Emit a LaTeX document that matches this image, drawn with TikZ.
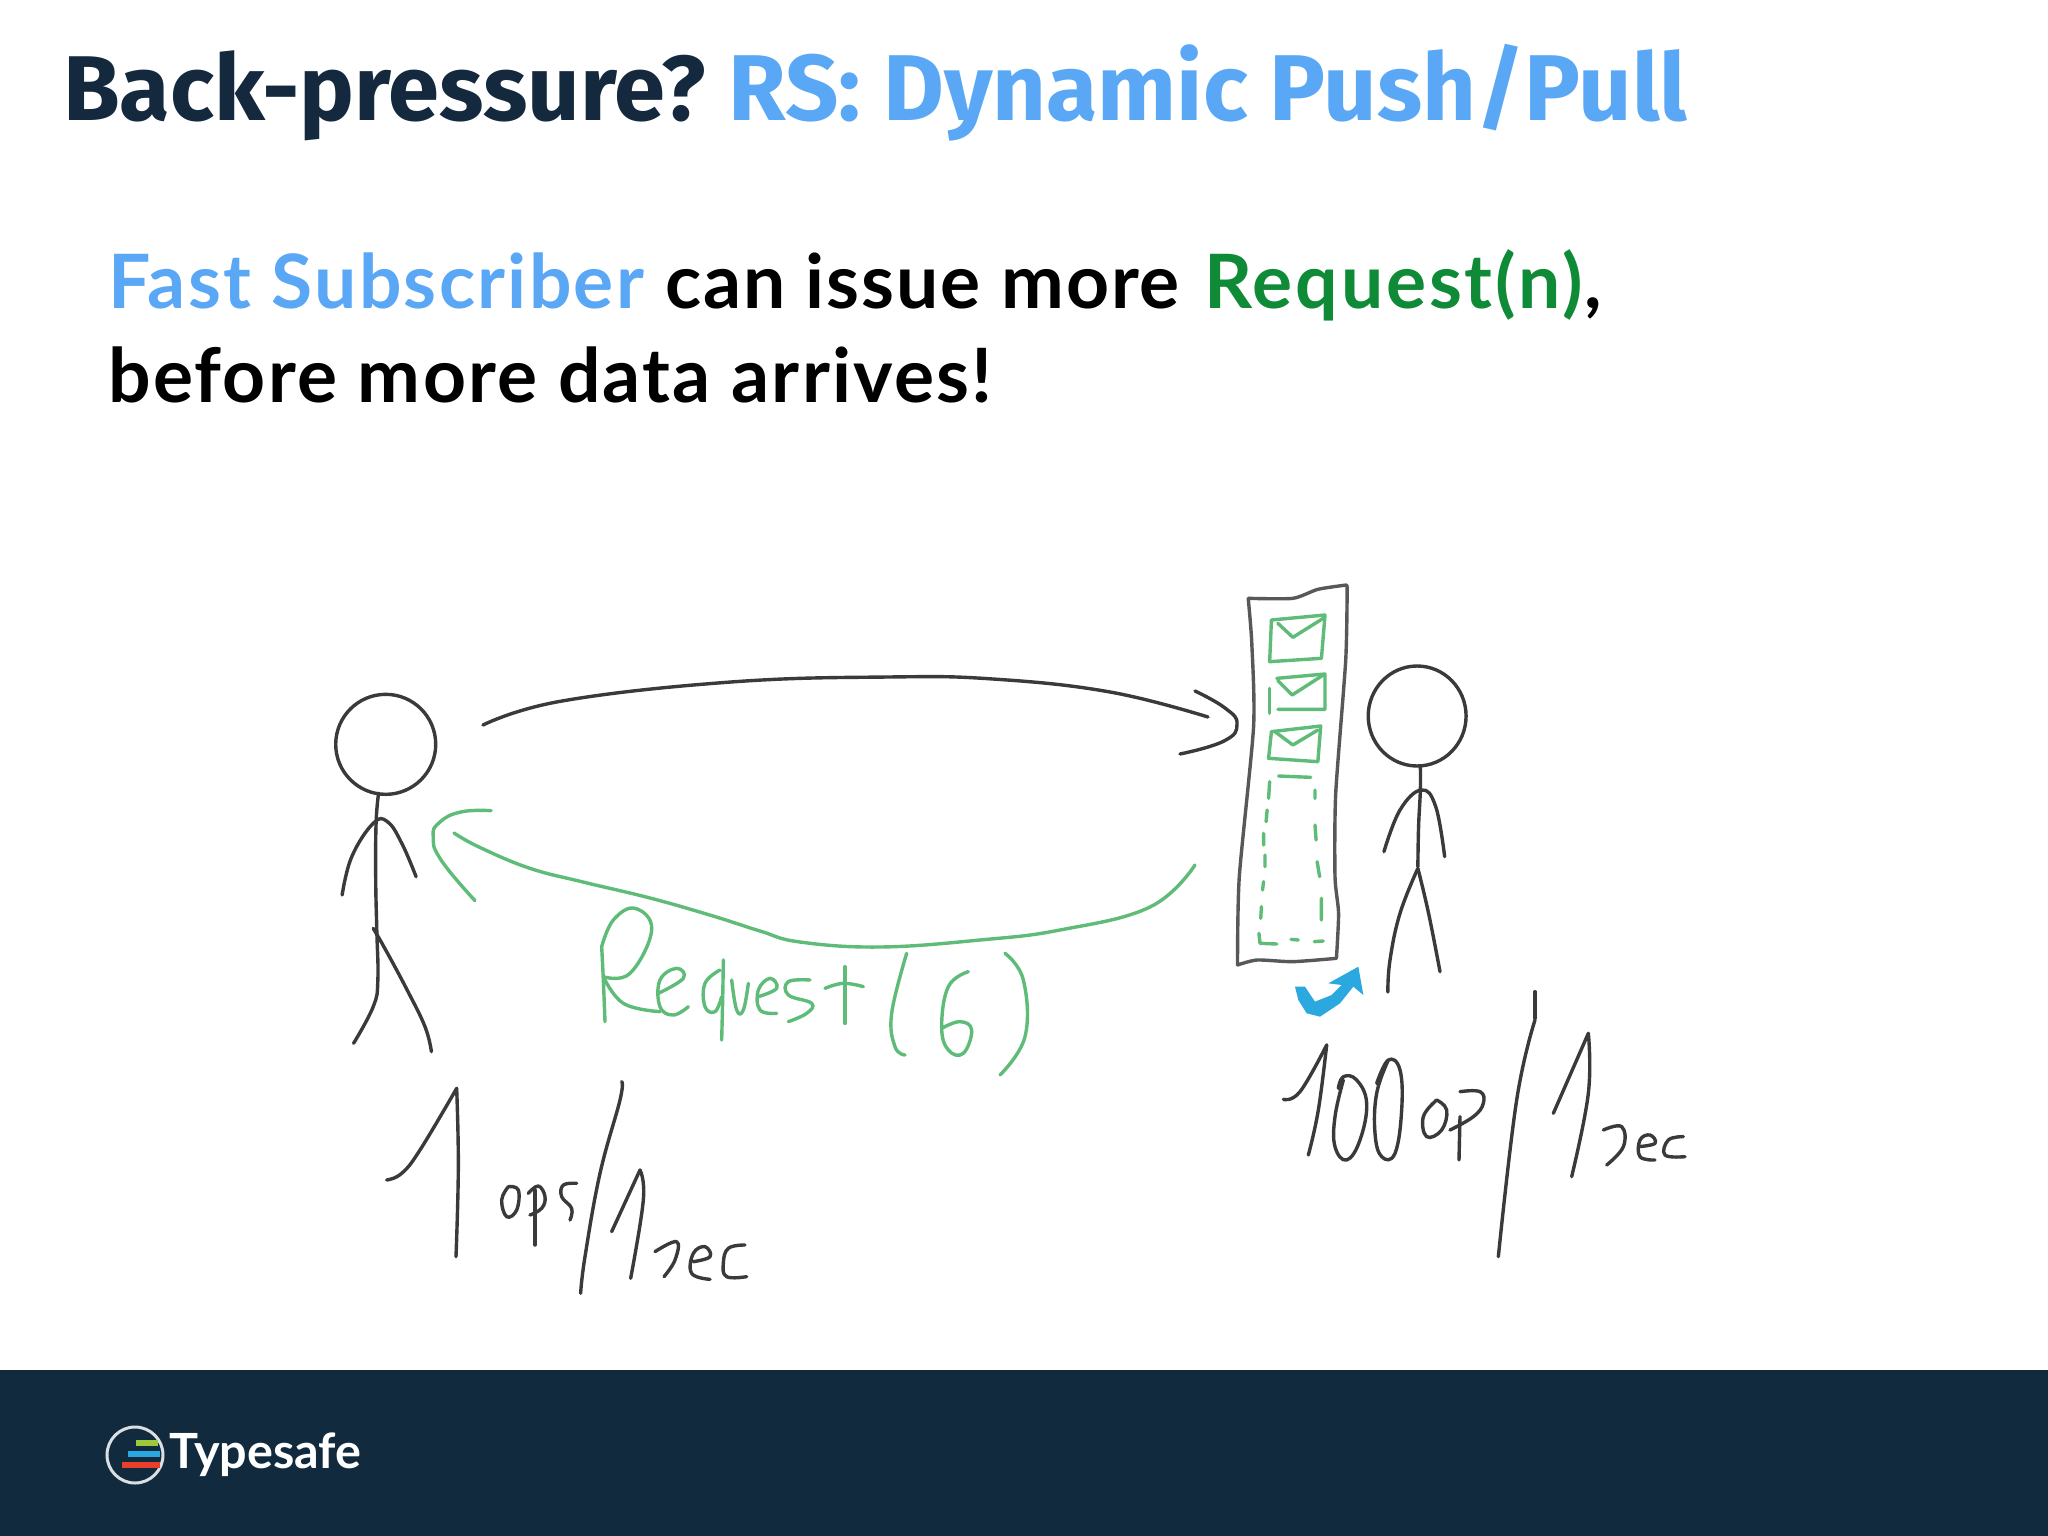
\documentclass[tikz,border=0pt]{standalone}
\usepackage{fontspec}
\setmainfont{Lato}
\newfontfamily\titlefont{Fira Sans}
\newfontfamily\bodyA[LetterSpace=3.0]{Lato}
\newfontfamily\bodyB[LetterSpace=2.6]{Lato}
\newfontfamily\bodyC[LetterSpace=3.8]{Lato}
\definecolor{navy}{HTML}{112A3E}
\definecolor{titleink}{HTML}{14293D}
\definecolor{skyblue}{HTML}{5AA8F5}
\definecolor{reqgreen}{HTML}{0F8A36}
\definecolor{penink}{HTML}{3A3A3A}
\definecolor{pengreen}{HTML}{5FBC78}
\definecolor{penblue}{HTML}{2BA8DF}
\definecolor{logogreen}{HTML}{9CC83C}
\definecolor{logored}{HTML}{E8402A}
\tikzset{
  inkline/.style={draw=penink,line width=3.4pt,line cap=round,line join=round},
  greenline/.style={draw=pengreen,line width=3.4pt,line cap=round,line join=round},
  titletext/.style={anchor=base west,inner sep=0pt,font=\titlefont\bfseries\fontsize{92}{100}\selectfont},
  bodytext/.style={anchor=base west,inner sep=0pt,font=\bfseries\fontsize{75}{90}\selectfont},
  zoomA/.style={shift={(1150,560)},x=0.35714pt,y=-0.33333pt},
  zoomB/.style={shift={(300,680)},x=0.35714pt,y=-0.33333pt},
  zoomC/.style={shift={(360,1000)},x=0.33333pt,y=-0.33333pt},
  zoomD/.style={shift={(1260,960)},x=0.33333pt,y=-0.33333pt},
  zoomE/.style={shift={(580,880)},x=0.33333pt,y=-0.33333pt},
}
\newcommand{\ink}[1]{\draw[inkline] plot[smooth,tension=0.7] coordinates {#1};}
\newcommand{\grn}[1]{\draw[greenline] plot[smooth,tension=0.7] coordinates {#1};}
\begin{document}
\begin{tikzpicture}[x=1pt,y=-1pt]
\useasboundingbox (0,0) rectangle (2048,1536);
\fill[white] (0,0) rectangle (2048,1536);
\fill[navy] (0,1370) rectangle (2048,1536);

% headings
\node[titletext,text=titleink] (t1) at (63,121) {Back-pressure?};
\node[titletext,text=skyblue,font=\titlefont\bfseries\fontsize{93.5}{100}\selectfont] (t2) at (728,121) {RS: Dynamic Push/Pull};
\node[bodytext,text=skyblue,font=\bodyA\bfseries\fontsize{75}{90}\selectfont] (b1) at (108,308) {Fast Subscriber};
\node[bodytext,text=black,font=\bodyB\bfseries\fontsize{75}{90}\selectfont] (b2) at (665,308) {can issue more};
\node[bodytext,text=reqgreen,font=\bodyC\bfseries\fontsize{75}{90}\selectfont] (b3) at (1204,308) {Request(n)};
\node[bodytext,text=black] (b4) at (1584,308) {,};
\node[bodytext,text=black,font=\bodyA\bfseries\fontsize{75}{90}\selectfont] (b5) at (108,402) {before more data arrives!};

% logo
\draw[white!85!navy,line width=3pt] (135,1455) circle (28);
\draw[line width=5.5pt,color=logogreen] (136,1443) -- (158,1443);
\draw[line width=6pt,color=penblue] (128,1454) -- (160,1454);
\draw[line width=6pt,color=logored] (122,1465) -- (160,1465);
\node[anchor=base west,inner sep=0pt,text=white,font=\bfseries\fontsize{48.5}{50}\selectfont] (logo) at (169,1468) {Typesafe};

% left figure, arrows
\begin{scope}[zoomB]
\draw[inkline] (240,193) ellipse [x radius=140,y radius=150];
\ink{(220,340)(213,430)(212,600)(215,750)(218,900)(205,980)(150,1090)}
\ink{(205,745)(240,810)(300,930)(350,1040)(368,1115)}
\ink{(118,645)(145,530)(205,430)(245,425)(285,490)(325,590)}
\draw[greenline] plot[smooth,tension=0.8] coordinates {(535,392)(450,396)(390,428)(373,470)(395,540)(490,662)};
\end{scope}

% upper arrow
\ink{(483,725)(562,701)(731,682)(888,677)(993,679)(1110,692)(1208,717)}
\draw[inkline] plot[smooth,tension=0.8] coordinates {(1195,691)(1225,708)(1237,724)(1224,741)(1180,754)};

% lower arrow
\grn{(1195,865)(1150,907)(1060,930)(980,940)(880,947)(800,942)(760,931)(713,916)(650,898)(583,882)(529,868)(479,847)(454,833)}

% buffer and right figure
\begin{scope}[zoomA]
\draw[inkline,draw=penink!85!white] plot[smooth,tension=0.4] coordinates {(275,115)(400,115)(470,88)(550,75)} -- (552,80)
  plot[smooth,tension=0.4] coordinates {(552,80)(548,300)(520,700)(518,950)(528,1060)(522,1195)}
  plot[smooth,tension=0.4] coordinates {(522,1195)(400,1205)(300,1200)(245,1215)}
  plot[smooth,tension=0.4] coordinates {(245,1215)(250,950)(290,500)(285,250)(275,115)};
\draw[inkline] (748,468) ellipse [x radius=137,y radius=150];
\ink{(757,620)(757,690)(752,800)(750,920)}
\ink{(655,875)(700,750)(760,690)(800,740)(825,890)}
\ink{(750,925)(700,1060)(672,1200)(666,1296)}
\ink{(750,925)(780,1060)(812,1235)}
% envelopes
\draw[greenline] (340,180)--(490,165)--(480,295)--(335,305)--cycle;
\draw[greenline] (358,190)--(400,232)--(485,175);
\draw[greenline] (355,355)--(490,342)--(490,448)--(358,448);
\draw[greenline] (335,385)--(335,460);
\draw[greenline] (358,362)--(398,405)--(485,345);
\draw[greenline] (340,515)--(478,498)--(470,605)--(332,595)--cycle;
\draw[greenline] (350,515)--(400,555)--(470,510);
% empty slots
\draw[greenline]
  (360,648)--(450,652)
  (335,665)--(332,715) (328,750)--(325,785) (318,820)--(318,855) (322,885)--(322,920)
  (318,965)--(315,990) (312,1040)--(310,1075)
  (305,1120)--(308,1150)--(355,1152)
  (395,1138)--(415,1140) (460,1145)--(485,1143)
  (462,690)--(462,715) (462,795)--(465,840) (468,905)--(475,950) (480,1015)--(480,1080);
\end{scope}

% Request (6)
\begin{scope}[zoomE]
\grn{(65,200)(70,300)(75,425)}
\grn{(70,290)(150,280)(215,150)(165,85)(100,120)(65,200)}
\grn{(70,290)(130,370)(240,395)}
\grn{(235,340)(310,295)(290,265)(240,300)(240,380)(280,405)(325,380)}
\grn{(420,270)(375,310)(375,380)(405,395)(425,350)}
\grn{(430,240)(428,360)(425,480)}
\grn{(455,300)(470,390)(490,390)(505,310)}
\grn{(535,350)(590,325)(570,295)(535,330)(540,390)(590,400)}
\grn{(690,300)(625,305)(625,345)(695,370)(680,400)(625,425)}
\grn{(795,260)(795,350)(795,430)}
\grn{(735,325)(790,310)(850,320)}
\grn{(980,220)(935,400)(945,500)(975,525)}
\grn{(1165,275)(1105,320)(1085,440)(1105,510)(1150,520)(1175,450)(1140,425)(1085,445)}
\grn{(1275,220)(1330,300)(1335,470)(1260,585)}
\end{scope}

% 1 ops / 1 sec
\begin{scope}[zoomC]
\ink{(80,540)(125,520)(180,450)(290,265)}
\ink{(290,265)(295,500)(288,770)}
\ink{(445,560)(425,600)(440,650)(470,630)(475,570)(445,560)}
\ink{(525,570)(525,735)}
\ink{(505,580)(535,558)(555,590)(545,625)(510,645)}
\ink{(650,550)(610,555)(605,590)(635,625)(630,660)}
\ink{(785,245)(780,300)(720,520)(675,770)(662,880)}
\ink{(755,695)(840,510)}
\ink{(840,510)(850,600)(812,835)}
\ink{(885,755)(950,725)(945,780)(912,830)}
\ink{(1000,785)(1050,770)(1035,740)(1000,760)(995,820)(1050,838)}
\ink{(1155,735)(1105,745)(1090,790)(1100,830)(1160,830)}
\end{scope}

% 100 op / 1 sec and the blue arrow
\begin{scope}[zoomD]
\fill[penblue] (105,80)--(135,80)--(165,125)--(215,105)--(245,75)--(205,70)--(295,20)--(310,105)--(280,80)--(240,130)--(180,170)--(140,160)--(115,120)--cycle;
\ink{(70,418)(120,395)(200,255)}
\ink{(200,255)(175,450)(145,585)}
\ink{(250,360)(225,470)(225,560)(260,600)(300,540)(320,430)(290,360)(250,350)(235,385)}
\ink{(385,300)(350,400)(345,520)(365,590)(405,580)(425,450)(420,330)(385,300)(350,370)}
\ink{(530,420)(490,470)(500,530)(545,510)(560,450)(530,420)}
\ink{(600,470)(597,600)}
\ink{(600,395)(660,395)(670,430)(640,470)(570,510)}
\ink{(825,95)(825,175)}
\ink{(825,180)(770,420)(715,890)}
\ink{(880,460)(985,220)}
\ink{(985,220)(985,400)(935,650)}
\ink{(1030,510)(1085,500)(1090,560)(1040,615)}
\ink{(1135,560)(1185,550)(1170,525)(1140,540)(1140,590)(1185,600)}
\ink{(1270,530)(1225,540)(1215,585)(1275,590)}
\end{scope}
\end{tikzpicture}
\end{document}
